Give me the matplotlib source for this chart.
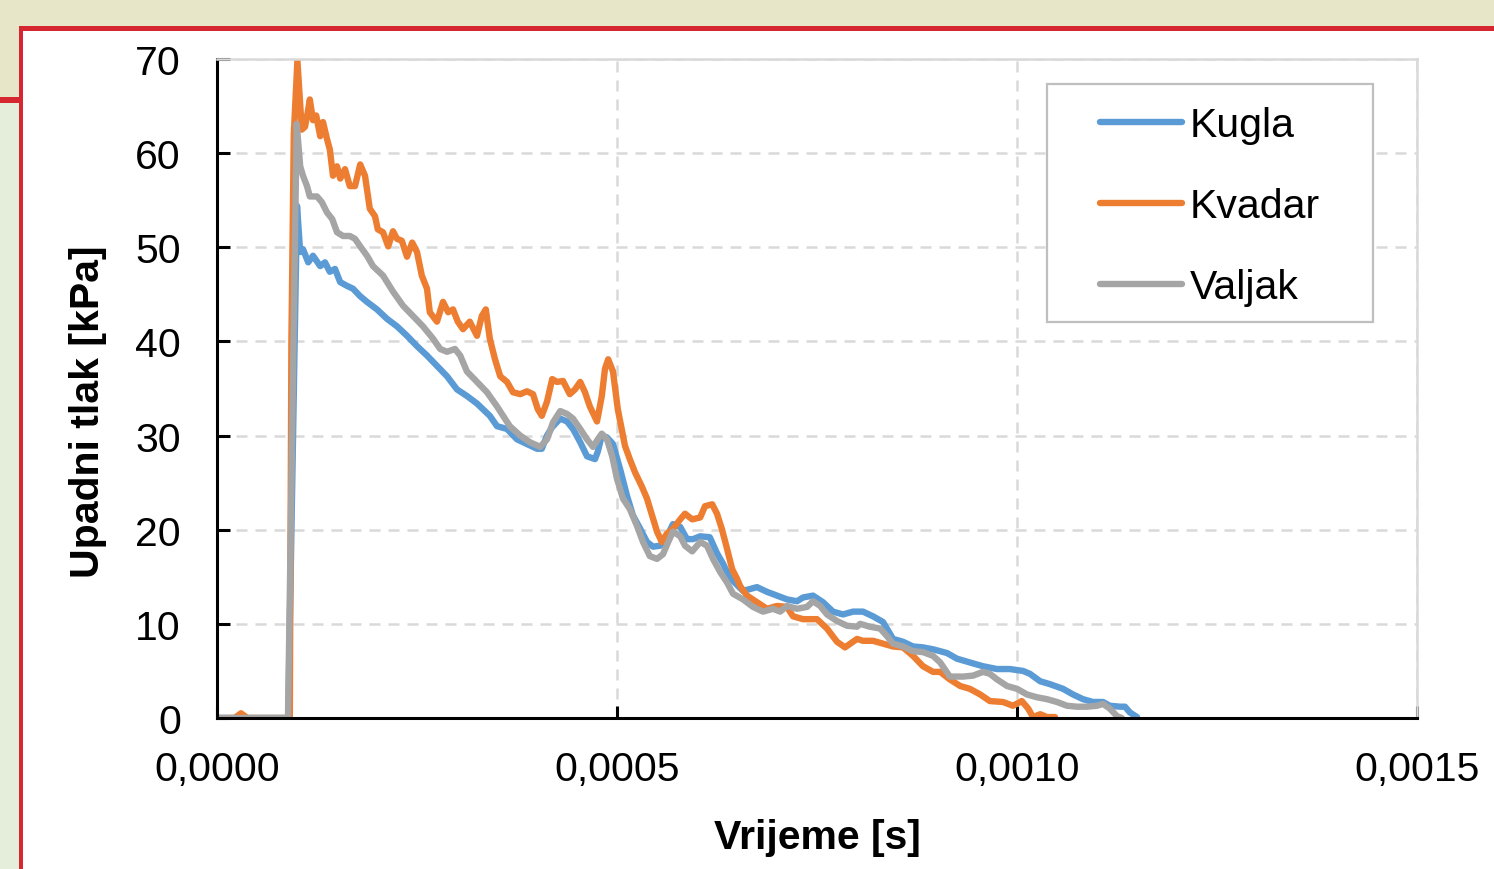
import numpy as np
import matplotlib
matplotlib.use("Agg")
import matplotlib.pyplot as plt
from matplotlib.patches import Rectangle
from matplotlib.ticker import FuncFormatter, MultipleLocator

plt.rcParams['font.family'] = ['Liberation Sans', 'DejaVu Sans']

# series names and colours (Excel defaults)
series = ["Kugla", "Kvadar", "Valjak"]
colors = ["#5B9BD5", "#ED7D31", "#A5A5A5"]

# time in microseconds, pressure in kPa
kugla_t = [0, 89, 100, 104, 107.5, 114, 120, 129, 135, 141, 147.5, 154, 162.5, 170, 179,
           187.5, 200, 212.5, 225, 237.5, 250, 262.5, 275, 287.5, 300, 312.5, 325, 341, 350,
           362.5, 375, 387.5, 400, 406, 412.5, 419, 429, 437.5, 445, 454, 462.5, 472.5, 476,
           481, 487.5, 495, 504, 512.5, 520, 529, 537.5, 545, 554, 562.5, 570, 579, 587.5,
           595, 604, 616, 625, 632.5, 641, 657.5, 675, 687.5, 700, 712.5, 725, 732.5, 745,
           757.5, 770, 782.5, 795, 807.5, 820, 832.5, 845, 857.5, 870, 882.5, 895, 912.5,
           925, 941, 957.5, 975, 991, 1007.5, 1016, 1029, 1041, 1057.5, 1070, 1082.5, 1095,
           1107.5, 1116, 1129, 1135, 1141, 1150]
kugla_p = [0, 0, 54.4, 49.5, 49.8, 48.4, 49.1, 48.0, 48.4, 47.4, 47.7, 46.3, 45.9, 45.6, 44.8,
           44.2, 43.4, 42.4, 41.6, 40.6, 39.5, 38.5, 37.4, 36.3, 34.9, 34.2, 33.4, 32.1, 31.0,
           30.7, 29.6, 29.1, 28.6, 28.6, 30.0, 30.9, 31.8, 31.5, 30.7, 29.3, 27.8, 27.5, 28.3,
           30.0, 29.8, 29.1, 26.4, 23.6, 21.5, 20.1, 18.7, 18.2, 18.3, 19.3, 20.6, 20.3, 19.0,
           19.0, 19.3, 19.2, 17.5, 16.4, 14.9, 13.5, 13.9, 13.4, 13.0, 12.6, 12.4, 12.8, 13.0,
           12.3, 11.3, 11.0, 11.3, 11.3, 10.8, 10.2, 8.4, 8.1, 7.6, 7.5, 7.3, 6.9,
           6.3, 5.9, 5.5, 5.2, 5.2, 5.0, 4.7, 3.9, 3.6, 3.1, 2.5, 2.0, 1.7,
           1.7, 1.3, 1.2, 1.2, 0.6, 0.1]

kvadar_t = [0, 22, 30, 38, 91, 93, 96, 100.5, 103, 106, 110, 113.75, 116, 120, 124, 129,
            132.5, 137.5, 141, 145, 150, 154, 160, 166, 172.5, 179, 185, 191, 197.5, 201,
            207.5, 214, 220, 225, 231, 237.5, 244, 250, 256, 262.5, 266, 275, 282.5, 289,
            295, 301, 307.5, 316, 325, 331, 336, 341, 347.5, 354, 362.5, 370, 379, 387.5,
            395, 401, 406, 412.5, 419, 425, 432.5, 441, 447.5, 454, 460, 466, 475, 481, 485,
            489, 495, 501, 510, 516, 522.5, 531, 537.5, 544, 550, 556, 562.5, 570, 579, 585,
            594, 604, 610, 619, 625, 631, 637.5, 644, 650, 654, 662.5, 675, 687.5, 700, 712.5,
            720, 732.5, 750, 762.5, 775, 785, 800, 807.5, 820, 832.5, 845, 857.5, 870, 882.5,
            895, 904, 916, 929, 941, 954, 966, 982.5, 995, 1006, 1014, 1020, 1029, 1037.5,
            1047.5]
kvadar_p = [0, 0, 0.5, 0, 0, 40, 62, 69.8, 66.5, 62.5, 62.8, 64.5, 65.7, 63.5, 64, 61.8,
            63.3, 61.5, 60.4, 57.6, 58.6, 57.3, 58.3, 56.5, 56.5, 58.8, 57.6, 54.1, 53.3, 51.9,
            51.6, 50.1, 51.7, 50.9, 50.7, 49.0, 50.5, 49.5, 47.0, 45.6, 43.1, 42.1, 44.2, 43.1,
            43.4, 42.1, 41.3, 42.1, 40.6, 42.7, 43.4, 40.3, 38.1, 36.3, 35.7, 34.6, 34.4, 34.7,
            34.4, 32.8, 32.1, 33.6, 36.0, 35.7, 35.8, 34.4, 34.9, 35.7, 34.6, 33.1, 31.5, 34.2, 37.1,
            38.1, 36.8, 32.8, 28.9, 27.5, 26.1, 24.6, 23.3, 21.5, 19.8, 18.7, 19.6, 20.1, 21.1, 21.7,
            21.1, 21.3, 22.5, 22.7, 21.7, 20.1, 18.0, 15.8, 14.8, 14.0, 13.0, 12.3, 11.6, 11.9, 11.8,
            10.8, 10.5, 10.5, 9.5, 8.1, 7.5, 8.4, 8.2, 8.2, 7.9, 7.6, 7.5, 6.6, 5.5,
            4.9, 4.9, 4.1, 3.4, 3.1, 2.5, 1.8, 1.7, 1.3, 1.8, 1.0, 0.1, 0.4, 0.1,
            0.1]

valjak_t = [0, 88.75, 99.6, 104, 107.5, 112.5, 116, 125, 131, 137.5, 144, 150, 157.5, 166,
            172.5, 179, 187.5, 195, 207.5, 220, 232.5, 245, 257.5, 270, 279, 287.5, 297.5, 304,
            312.5, 325, 337.5, 350, 366, 379, 391, 404, 412.5, 420, 429, 437.5, 445, 454, 462.5,
            470, 476, 481, 487.5, 494, 500, 507.5, 516, 525, 532.5, 541, 550, 557.5, 564, 570,
            579, 585, 594, 604, 612.5, 620, 629, 637.5, 645, 657.5, 670, 682.5, 695, 704, 712.5,
            725, 737.5, 745, 754, 762.5, 775, 787.5, 800, 804, 816, 829, 837.5, 845, 857.5, 870,
            882.5, 895, 904, 916, 932.5, 945, 957.5, 966, 975, 987.5, 1000, 1012.5, 1025, 1037.5,
            1050, 1062.5, 1075, 1087.5, 1100, 1107.5, 1116, 1125, 1131]
valjak_p = [0, 0, 63.1, 58.6, 57.6, 56.5, 55.4, 55.4, 54.8, 53.7, 53.0, 51.6, 51.2, 51.2,
            50.9, 50.1, 49.1, 48.0, 47.0, 45.3, 43.8, 42.7, 41.6, 40.3, 39.2, 38.9, 39.2, 38.5,
            36.8, 35.7, 34.6, 33.1, 31.0, 30.0, 29.3, 28.8, 29.6, 31.4, 32.6, 32.3, 31.8, 30.7, 29.6,
            28.8, 29.6, 30.2, 29.6, 27.8, 25.4, 23.3, 22.2, 20.4, 18.7, 17.2, 16.9, 17.4, 18.7, 19.8,
            19.3, 18.3, 17.7, 18.7, 18.3, 16.9, 15.5, 14.4, 13.2, 12.6, 11.8, 11.3, 11.6, 11.3, 11.9,
            11.6, 11.8, 12.4, 11.9, 11.0, 10.3, 9.8, 9.7, 10.0, 9.7, 9.5, 8.7, 7.9, 7.6, 7.1,
            7.0, 6.6, 5.9, 4.4, 4.4, 4.5, 4.9, 4.7, 4.1, 3.4, 3.1, 2.5, 2.2, 2.0,
            1.7, 1.3, 1.2, 1.2, 1.3, 1.5, 1.0, 0.2, 0]

times = [kugla_t, kvadar_t, valjak_t]
values = [kugla_p, kvadar_p, valjak_p]

W, H = 1494, 870
fig = plt.figure(figsize=(W / 100, H / 100), dpi=100, facecolor="#E8E6C8")


def add_box(x0, y0, x1, y1, color):
    # background decoration, given in figure pixels from the top-left
    fig.add_artist(Rectangle((x0 / W, 1 - y1 / H), (x1 - x0) / W, (y1 - y0) / H,
                             transform=fig.transFigure, facecolor=color,
                             edgecolor="none", zorder=-5))


red = "#D6262F"
add_box(0, 101, 20, H, "#E4EEDB")
add_box(0, 98, 20, 104, red)
add_box(19, 27, W, H, red)
add_box(23, 32, W, H, "white")

ax = fig.add_axes([217 / W, 1 - 719 / H, 1200 / W, 659 / H])

for t, p, name, c in zip(times, values, series, colors):
    ax.plot(np.array(t) * 1e-6, p, color=c, lw=4.6, label=name,
            solid_capstyle="round", solid_joinstyle="round")

ax.set_xlim(0, 0.0015)
ax.set_ylim(0, 70)
ax.xaxis.set_major_locator(MultipleLocator(0.0005))
ax.yaxis.set_major_locator(MultipleLocator(10))
ax.xaxis.set_major_formatter(FuncFormatter(lambda v, pos: f"{v:.4f}".replace(".", ",")))

ax.grid(True, color="#D9D9D9", lw=1.8, ls=(0, (4.4, 3.2)))
for side in ["top", "right"]:
    ax.spines[side].set_color("#D9D9D9")
    ax.spines[side].set_linewidth(1.8)
for side in ["left", "bottom"]:
    ax.spines[side].set_color("black")
    ax.spines[side].set_linewidth(2.2)

ax.tick_params(axis="both", direction="in", length=9, width=2.2, labelsize=29.5)
ax.tick_params(axis="y", pad=26)
ax.tick_params(axis="x", pad=23)

ax.set_xlabel("Vrijeme [s]", fontsize=29.5, fontweight="bold")
ax.set_ylabel("Upadni tlak [kPa]", fontsize=29.5, fontweight="bold")
ax.xaxis.set_label_coords(0.5, -0.152)
ax.yaxis.set_label_coords(-0.092, 0.466)

# legend frame drawn separately so the padding matches
ax.add_patch(Rectangle((0.6917, 0.6009), 0.2717, 0.3611, transform=ax.transAxes,
                       facecolor="white", edgecolor="#BFBFBF", lw=1.6, zorder=4))
ax.legend(loc="upper left", bbox_to_anchor=(0.7358, 0.928), frameon=False, fontsize=29.5,
          handlelength=2.0, handletextpad=0.2, labelspacing=1.05, borderpad=0,
          borderaxespad=0).set_zorder(5)

fig.savefig("out.png", dpi=100, facecolor=fig.get_facecolor())
